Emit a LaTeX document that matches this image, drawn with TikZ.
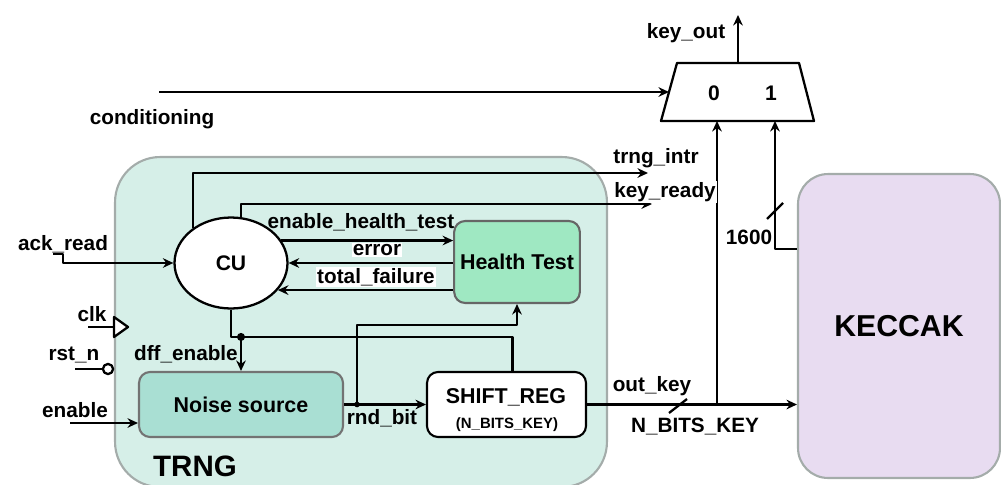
\documentclass[tikz,border=0pt]{standalone}
\usepackage{fontspec}
\setmainfont{Liberation Sans}
\usepackage{xcolor}
\usetikzlibrary{shapes, arrows.meta, positioning, calc}
\definecolor{trngbg}{HTML}{D6EFE8}
\definecolor{trngedge}{HTML}{A4ACAA}
\definecolor{htfill}{HTML}{9FE8C2}
\definecolor{nsfill}{HTML}{A9DFD3}
\definecolor{keccakbg}{HTML}{E8DCF1}
\tikzset{
    wire/.style={
        line width=1.3pt,
    },
    lbl/.style={
        inner sep=0.5pt,
        font=\fontsize{11.8}{13}\selectfont\bfseries,
    },
    block/.style={
        rectangle,
        rounded corners=0.22cm,
        line width=1.2pt,
        draw=black,
        align=center,
        font=\fontsize{12.2}{14}\selectfont\bfseries,
    },
    ctrl/.style={
        ellipse,
        line width=1.3pt,
        draw=black,
        fill=white,
        minimum width=2.26cm,
        minimum height=1.82cm,
        font=\fontsize{12}{14}\selectfont\bfseries,
    },
}

\begin{document}
\begin{tikzpicture}[x=0.02cm, y=-0.02cm, >={Stealth[length=6pt, width=5.5pt, inset=2pt]}, line join=round]
    \useasboundingbox (0,0) rectangle (1001,484);

    % the two big blocks
    \node [draw=trngedge, line width=1.2pt, fill=trngbg, rounded corners=0.9cm,
           minimum width=9.84cm, minimum height=6.6cm] (T) at (361,322) {};
    \node [draw=trngedge, line width=1.2pt, fill=keccakbg, rounded corners=0.6cm,
           minimum width=4.04cm, minimum height=6.08cm,
           font=\fontsize{17.2}{20}\selectfont\bfseries] (K) at (899,326) {KECCAK};
    \node [font=\fontsize{16.8}{20}\selectfont\bfseries] (trng) at (195,466) {TRNG};

    % inside the TRNG
    \node [ctrl] (CU) at (231,263) {CU};
    \node [block, draw=black!60, fill=htfill, minimum width=2.48cm, minimum height=1.64cm] (HT) at (517,262) {Health Test};
    \node [block, draw=black!55, fill=nsfill, minimum width=4.08cm, minimum height=1.3cm] (NS) at (241,404.5) {Noise source};
    \node [block, fill=white, minimum width=3.18cm, minimum height=1.3cm] (SR) at (506.5,404.5) {};
    \node (srname) at (506,397) [font=\fontsize{12.2}{14}\selectfont\bfseries] {SHIFT\_REG};
    \node (srsize) at (507,425) [font=\fontsize{8.5}{10}\selectfont\bfseries] {(N\_BITS\_KEY)};

    % output mux
    \draw[wire, fill=white] (677,63) -- (799,63) -- (814,121) -- (661,121) -- cycle;
    \coordinate (mux-out) at (738,63);
    \coordinate (mux-0) at (717,121);
    \coordinate (mux-1) at (775,121);
    \coordinate (mux-l) at (669,92);
    \node [lbl, font=\fontsize{12}{14}\selectfont\bfseries] (sel0) at (714,93) {0};
    \node [lbl, font=\fontsize{12}{14}\selectfont\bfseries] (sel1) at (771,93) {1};

    % free ends of the ports
    \coordinate (key-out) at (738,15);
    \coordinate (cond) at (159,92);
    \coordinate (intr) at (648,173);
    \coordinate (ready) at (652,204);
    \coordinate (ack) at (53,254);
    \coordinate (clk) at (88,327);
    \coordinate (rst) at (75,369);
    \coordinate (en) at (70,423);
    \coordinate (fork) at ($(NS.north)+(0,-34)$);
    \coordinate (tap) at ($(NS.east)+(13,0)$);

    % wires
    \draw[wire,->] (mux-out) -- (key-out);
    \draw[wire,->] (cond) -- (mux-l);
    \draw[wire,->] (CU.137) |- (intr);
    \draw[wire,->] (CU.78) |- (ready);
    \draw[wire,->] (ack) -- ++(10,0) |- (CU.west);
    \draw[wire,->] (CU.24) -- (CU.24 -| HT.west);
    \draw[wire,->] (HT.west |- CU.east) -- (CU.east);
    \draw[wire,->] (HT.west |- CU.330) -- (CU.330);
    \draw[wire] (CU.south) |- (fork);
    \draw[wire,->] (fork) -- (NS.north);
    \draw[wire] (fork) -| ($(SR.north)+(6,0)$);
    \fill (fork) circle[radius=2.3pt];
    \draw[wire,->] (NS.east) -- (SR.west);
    \draw[wire,->] (tap) |- ($(HT.south)+(0,21)$) -- (HT.south);
    \fill (tap) circle[radius=1.6pt];
    \draw[wire,->] (SR.east) -- (SR.east -| K.west);
    \draw[wire,->] (mux-0 |- SR.east) -- (mux-0);
    \draw[wire,->] ($(K.north west)+(0,76)$) -| (mux-1);
    \draw[wire] (669,413) -- (687,399);
    \draw[wire] (767,219) -- (783,203);
    \draw[wire,->] (en) -- (en -| NS.west);

    % clock and reset pins
    \draw[wire] (clk) -- (114,327);
    \draw[wire, fill=white] (114,317) -- (128,327) -- (114,337) -- cycle;
    \draw[wire] (rst) -- (103,369);
    \draw[wire, fill=white] (108,369) circle[radius=2.9pt];

    % signal names
    \node [lbl] (l-keyout) at (686,33) {key\_out};
    \node [lbl] (l-cond) at (152,119) {conditioning};
    \node [lbl] (l-intr) at (656,158) {trng\_intr};
    \node [lbl, fill=white] (l-ready) at (665,192) {key\_ready};
    \node [lbl] (l-width) at (749,237) {1600};
    \node [lbl] (l-ack) at (63,244) {ack\_read};
    \node [lbl] (l-clk) at (92,314) {clk};
    \node [lbl] (l-rst) at (74,355) {rst\_n};
    \node [lbl] (l-en) at (75,410) {enable};
    \node [lbl, anchor=east] (l-dff) at (239,354) {dff\_enable};
    \node [lbl] (l-rnd) at (382,418) {rnd\_bit};
    \node [lbl] (l-out) at (652,386) {out\_key};
    \node [lbl] (l-nbits) at (695,427) {N\_BITS\_KEY};
    \node [lbl] (l-eht) at (361,222) {enable\_health\_test};
    \node [lbl, fill=white] (l-err) at (377,250) {error};
    \node [lbl, fill=white] (l-fail) at (376,277) {total\_failure};
\end{tikzpicture}
\end{document}
